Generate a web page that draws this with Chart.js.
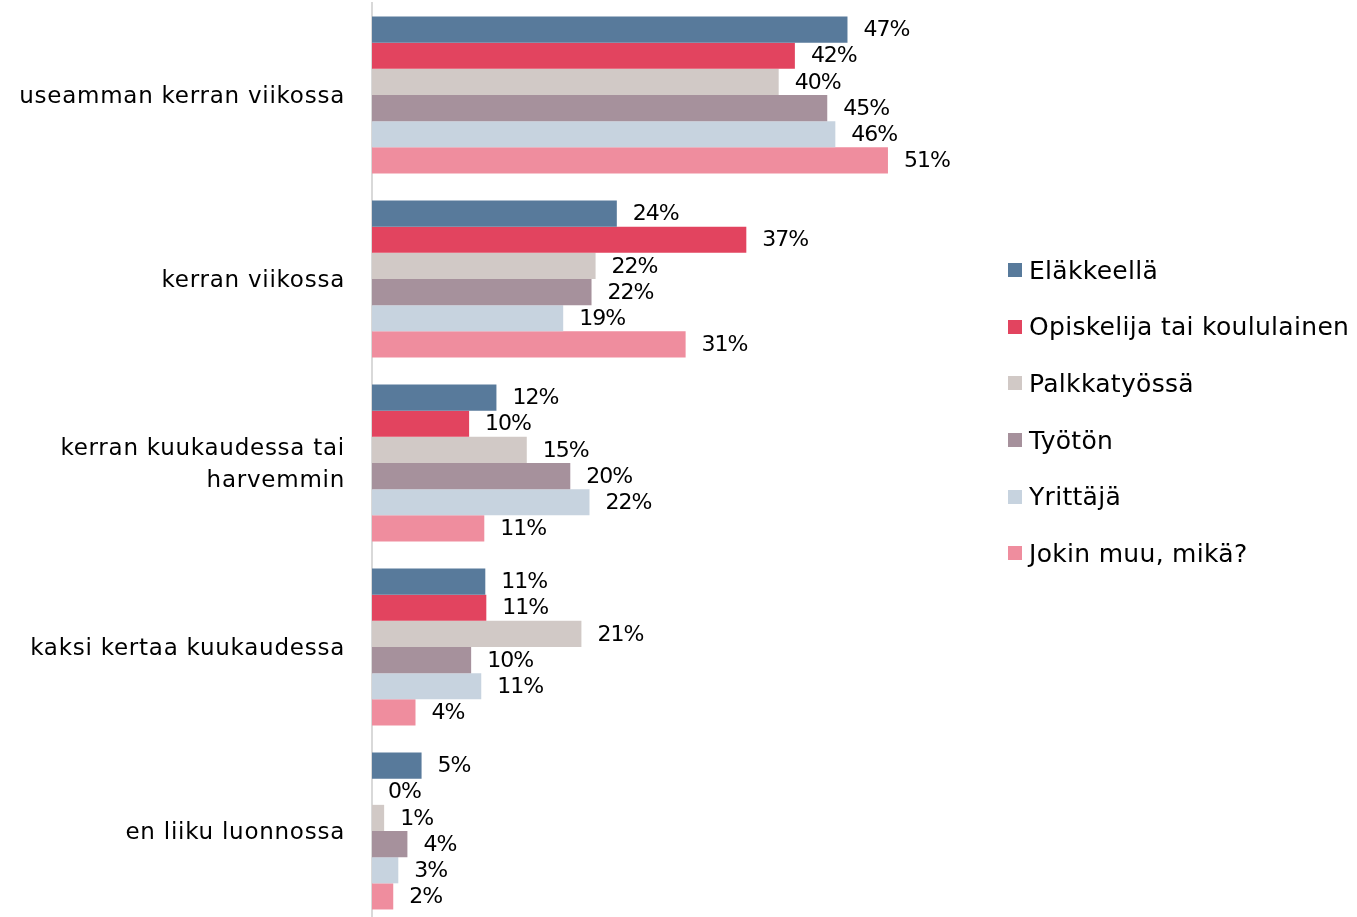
<!DOCTYPE html>
<html><head><meta charset="utf-8">
<script src="https://cdn.jsdelivr.net/npm/chart.js@4.4.1/dist/chart.umd.min.js"></script>
<style>
html,body{margin:0;padding:0;background:#fff;overflow:hidden;width:1357px;height:917px}
#wrap{position:absolute;left:0;top:0;width:1357px;height:926px}
#legend{position:absolute;left:1008px;top:242px;font-family:"DejaVu Sans",sans-serif;font-size:25px;letter-spacing:0.3px;color:#000}
.item{height:56.6px;display:flex;align-items:center;white-space:nowrap}
.box{width:14px;height:14px;margin-right:7px;flex:none}
</style>
</head><body>
<div id="wrap"><canvas id="c" width="1357" height="926"></canvas></div>
<div id="legend"></div>
<script>
const categories = ['useamman kerran viikossa', 'kerran viikossa', ['kerran kuukaudessa tai', 'harvemmin'], 'kaksi kertaa kuukaudessa', 'en liiku luonnossa'];
const seriesNames = ['Eläkkeellä', 'Opiskelija tai koululainen', 'Palkkatyössä', 'Työtön', 'Yrittäjä', 'Jokin muu, mikä?'];
const elakkeella = [47.0, 24.2, 12.3, 11.2, 4.9];
const opiskelija = [41.8, 37.0, 9.6, 11.3, 0];
const palkkatyossa = [40.2, 22.1, 15.3, 20.7, 1.2];
const tyoton = [45.0, 21.7, 19.6, 9.8, 3.5];
const yrittaja = [45.8, 18.9, 21.5, 10.8, 2.6];
const jokinMuu = [51.0, 31.0, 11.1, 4.3, 2.1];
const seriesColors = ['#587a9b', '#e2445f', '#d1c9c6', '#a6919c', '#c7d3df', '#ef8d9e'];
const seriesData = [elakkeella, opiskelija, palkkatyossa, tyoton, yrittaja, jokinMuu];

const legendEl = document.getElementById('legend');
seriesNames.forEach((n, i) => {
  const d = document.createElement('div'); d.className = 'item';
  const b = document.createElement('span'); b.className = 'box'; b.style.background = seriesColors[i];
  const t = document.createElement('span'); t.textContent = n;
  d.appendChild(b); d.appendChild(t); legendEl.appendChild(d);
});

const spacing = {
  id: 'spacing',
  beforeDraw(chart) { chart.ctx.letterSpacing = '0.75px'; },
  afterDraw(chart) { chart.ctx.letterSpacing = '0px'; }
};

const valueLabels = {
  id: 'valueLabels',
  afterDatasetsDraw(chart) {
    const ctx = chart.ctx;
    ctx.save();
    ctx.letterSpacing = '-1px';
    ctx.font = '22px "DejaVu Sans"';
    ctx.fillStyle = '#000';
    ctx.textBaseline = 'middle';
    ctx.textAlign = 'left';
    chart.data.datasets.forEach((ds, i) => {
      chart.getDatasetMeta(i).data.forEach((bar, j) => {
        ctx.fillText(Math.round(ds.data[j]) + '%', bar.x + 16, bar.y + 1);
      });
    });
    ctx.restore();
  }
};

new Chart(document.getElementById('c'), {
  type: 'bar',
  data: {
    labels: categories,
    datasets: seriesNames.map((n, i) => ({
      label: n, data: seriesData[i], backgroundColor: seriesColors[i], borderWidth: 0,
      categoryPercentage: 0.853, barPercentage: 1
    }))
  },
  options: {
    indexAxis: 'y',
    responsive: false,
    animation: false,
    layout: { padding: { top: 3, bottom: 3, left: 0, right: 378 } },
    plugins: { legend: { display: false }, tooltip: { enabled: false } },
    scales: {
      x: { display: false, min: 0, max: 60 },
      y: {
        grid: { display: false, drawTicks: false },
        border: { display: true, color: '#d9d9d9', width: 2 },
        ticks: { color: '#000', padding: 27, labelOffset: 2, font: { family: 'DejaVu Sans', size: 23, lineHeight: 1.4 } },
        afterFit(scale) { scale.width = 372; scale.paddingTop = 0; scale.paddingBottom = 0; }
      }
    }
  },
  plugins: [spacing, valueLabels]
});
</script>
</body></html>
